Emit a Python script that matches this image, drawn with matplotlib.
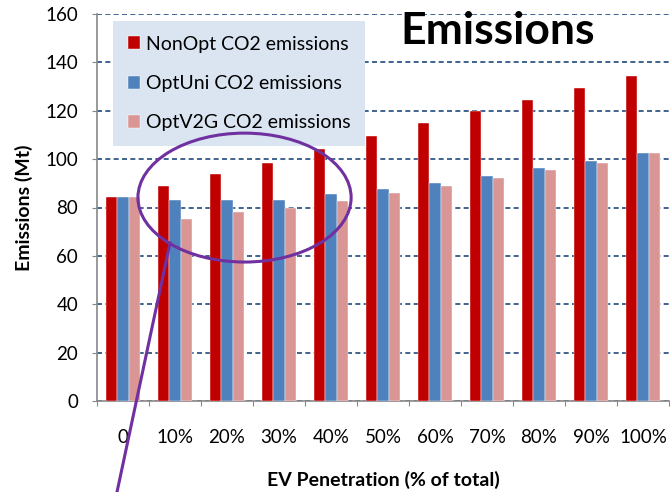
import matplotlib
matplotlib.use("Agg")
import matplotlib.pyplot as plt
from matplotlib.patches import Ellipse
import numpy as np

plt.rcParams["font.family"] = ["Lato", "DejaVu Sans"]

categories = ["0", "10%", "20%", "30%", "40%", "50%", "60%", "70%", "80%", "90%", "100%"]
nonopt = [84.5, 88.8, 93.8, 98.5, 104.0, 109.4, 114.9, 119.7, 124.5, 129.2, 134.2]
optuni = [84.5, 83.3, 83.3, 83.3, 85.4, 87.5, 90.2, 93.0, 96.4, 99.2, 102.6]
optv2g = [84.5, 75.1, 78.0, 79.9, 82.6, 86.1, 88.8, 92.3, 95.7, 98.5, 102.6]

series = [
    ("NonOpt CO2 emissions", nonopt, "#c00000"),
    ("OptUni CO2 emissions", optuni, "#4f81bd"),
    ("OptV2G CO2 emissions", optv2g, "#d99694"),
]

fig = plt.figure(figsize=(6.71, 4.92), dpi=100)
ax = fig.add_axes([97 / 671, 91 / 492, 572 / 671, 387 / 492])

x = np.arange(len(categories))
w = 0.218
for i, (name, vals, col) in enumerate(series):
    ax.bar(x + (i - 1) * w, vals, w, color=col, label=name,
           edgecolor="white", linewidth=0.3, zorder=3)

ax.set_xlim(-0.5, len(categories) - 0.5)
ax.set_ylim(0, 160)
ax.set_yticks(range(0, 161, 20))
ax.yaxis.grid(True, linestyle=(0, (3, 2)), color="#1f497d", linewidth=1.2, zorder=0)

# boundaries get the tick marks, centres get the labels
ax.set_xticks(np.arange(-0.5, len(categories)), minor=False)
ax.set_xticklabels([])
ax.set_xticks(x, minor=True)
ax.set_xticklabels(categories, minor=True)
ax.tick_params(axis="x", which="major", length=3.6, color="#888888")
ax.tick_params(axis="x", which="minor", length=0, pad=20, labelsize=13.5)
ax.tick_params(axis="y", length=3.6, color="#888888", pad=10, labelsize=13.5)

for s in ["top", "right"]:
    ax.spines[s].set_visible(False)
for s in ["left", "bottom"]:
    ax.spines[s].set_color("#888888")
    ax.spines[s].set_linewidth(1.2)

ax.set_ylabel("Emissions (Mt)", fontweight="bold", fontsize=14, labelpad=9)
ax.set_xlabel("EV Penetration (% of total)", fontweight="bold", fontsize=14, labelpad=18)

ax.text(0.70, 0.957, "Emissions", transform=ax.transAxes, fontsize=32,
        fontweight="bold", ha="center", va="center")

leg = ax.legend(loc="upper left", bbox_to_anchor=(0.028, 0.982), fontsize=14,
                frameon=True, fancybox=False, framealpha=1, borderpad=0.75,
                labelspacing=1.15, handlelength=0.65, handleheight=0.65,
                handletextpad=0.3, borderaxespad=0)
leg.get_frame().set_facecolor("#dbe5f1")
leg.get_frame().set_edgecolor("none")
leg.set_zorder(4)

# purple highlight ellipse and pointer line
ax.add_patch(Ellipse((2.337, 84.1), 4.1, 53.3, fill=False, edgecolor="#7030a0",
                     linewidth=2.2, zorder=5, clip_on=False))
ax.plot([0.904, -0.115], [65.3, -37.6], color="#7030a0", linewidth=2.2,
        zorder=5, clip_on=False)

fig.savefig("out.png", dpi=100)
